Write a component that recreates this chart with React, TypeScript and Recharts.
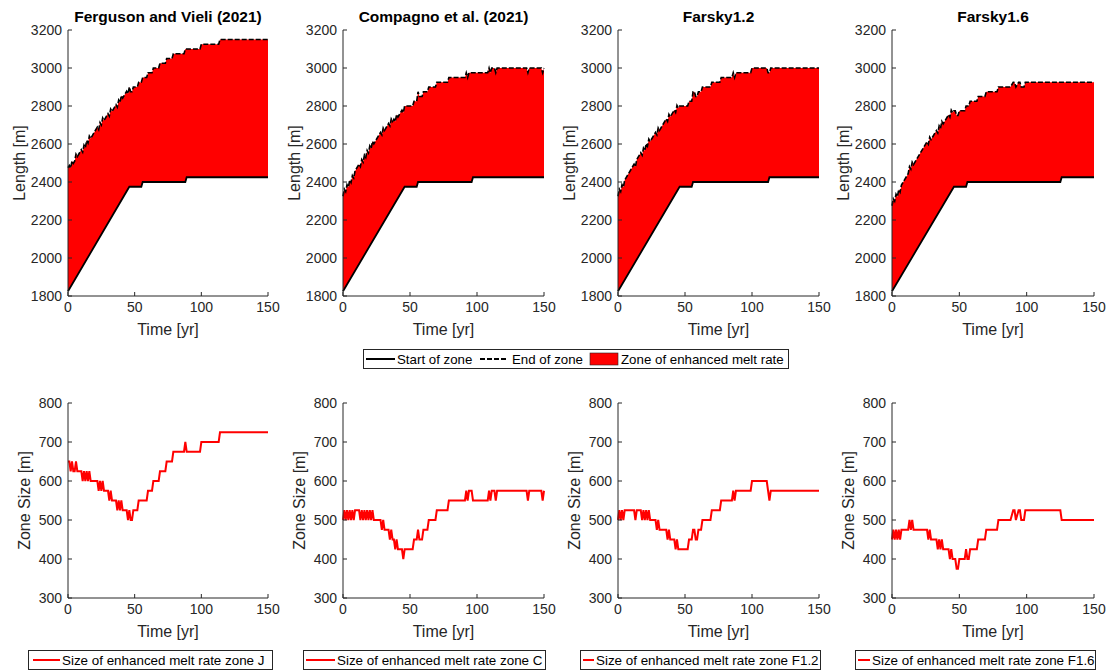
import React from 'react';
import { ComposedChart, Area, Line, XAxis, YAxis } from 'recharts';

type Pt = [number, number];

const FONT = '"Liberation Sans", Arial, Helvetica, sans-serif';
const INK = '#262626';

const panelTitles = ['Ferguson and Vieli (2021)', 'Compagno et al. (2021)', 'Farsky1.2', 'Farsky1.6'];
const zoneNames = ['J', 'C', 'F1.2', 'F1.6'];
const timeTicks = [0, 50, 100, 150];
const lengthTicks = [1800, 2000, 2200, 2400, 2600, 2800, 3000, 3200];
const sizeTicks = [300, 400, 500, 600, 700, 800];

// start of zone [year, m]
const startJ: Pt[] = [[0, 1825], [46, 2375], [55, 2375], [56, 2400], [88, 2400], [89, 2425], [150, 2425]];
const startC: Pt[] = [[0, 1825], [46, 2375], [55, 2375], [56, 2400], [96, 2400], [97, 2425], [150, 2425]];
const startF12: Pt[] = [[0, 1825], [46, 2375], [55, 2375], [56, 2400], [112, 2400], [113, 2425], [150, 2425]];
const startF16: Pt[] = [[0, 1825], [46, 2375], [55, 2375], [56, 2400], [125, 2400], [126, 2425], [150, 2425]];

// end of zone [year, m]
const endJ: Pt[] = [
  [0, 2475], [1, 2487], [2, 2474], [3, 2511], [4, 2498], [5, 2510], [6, 2547], [7, 2534], [10, 2570],
  [11, 2557], [12, 2594], [13, 2581], [14, 2618], [15, 2605], [16, 2642], [17, 2629], [19, 2653],
  [22, 2689], [23, 2676], [24, 2713], [25, 2700], [26, 2737], [27, 2724], [30, 2760], [31, 2747],
  [32, 2784], [33, 2771], [36, 2807], [37, 2794], [38, 2831], [39, 2818], [40, 2855], [41, 2842],
  [44, 2878], [45, 2865], [46, 2900], [47, 2875], [48, 2875], [49, 2900], [52, 2900], [53, 2925],
  [55, 2925], [56, 2950], [59, 2950], [60, 2975], [63, 2975], [64, 3000], [68, 3000], [69, 3025],
  [73, 3025], [74, 3050], [78, 3050], [79, 3075], [87, 3075], [88, 3100], [89, 3100], [99, 3100],
  [100, 3125], [113, 3125], [114, 3150], [150, 3150],
];
const endC: Pt[] = [
  [0, 2325], [1, 2362], [2, 2349], [3, 2386], [4, 2373], [5, 2410], [6, 2397], [7, 2434], [8, 2421],
  [9, 2458], [12, 2494], [13, 2481], [14, 2518], [15, 2505], [16, 2542], [17, 2529], [18, 2566],
  [19, 2553], [20, 2590], [21, 2577], [22, 2614], [23, 2601], [28, 2661], [29, 2648], [30, 2685],
  [31, 2672], [34, 2708], [35, 2695], [36, 2732], [37, 2719], [38, 2731], [39, 2718], [40, 2755],
  [41, 2742], [44, 2778], [45, 2765], [46, 2800], [52, 2800], [53, 2825], [55, 2825], [56, 2875],
  [57, 2850], [59, 2850], [60, 2875], [63, 2875], [64, 2900], [69, 2900], [70, 2925], [78, 2925],
  [79, 2950], [91, 2950], [92, 2975], [93, 2950], [94, 2975], [96, 2975], [97, 2975], [108, 2975],
  [109, 3000], [110, 2975], [111, 3000], [113, 3000], [114, 2975], [115, 3000], [137, 3000],
  [138, 2975], [139, 3000], [148, 3000], [149, 2975], [150, 3000],
];
const endF12: Pt[] = [
  [0, 2325], [1, 2362], [2, 2349], [3, 2386], [4, 2373], [5, 2410], [12, 2494], [13, 2481], [14, 2518],
  [17, 2554], [18, 2541], [19, 2578], [20, 2565], [21, 2602], [22, 2589], [23, 2626], [24, 2613],
  [28, 2661], [29, 2648], [30, 2685], [31, 2672], [36, 2732], [37, 2719], [38, 2756], [39, 2743],
  [42, 2779], [43, 2766], [44, 2803], [45, 2790], [46, 2800], [52, 2800], [53, 2825], [55, 2825],
  [56, 2875], [57, 2875], [58, 2850], [59, 2850], [60, 2875], [62, 2875], [63, 2900], [69, 2900],
  [70, 2925], [76, 2925], [77, 2950], [85, 2950], [86, 2975], [87, 2950], [88, 2975], [99, 2975],
  [100, 3000], [111, 3000], [112, 2975], [113, 2975], [114, 3000], [150, 3000],
];
const endF16: Pt[] = [
  [0, 2275], [1, 2312], [2, 2299], [3, 2336], [4, 2323], [5, 2360], [6, 2347], [7, 2384], [12, 2444],
  [13, 2481], [14, 2468], [15, 2505], [16, 2492], [26, 2612], [27, 2599], [28, 2636], [29, 2623],
  [33, 2671], [34, 2658], [35, 2695], [36, 2682], [37, 2719], [38, 2706], [42, 2754], [43, 2741],
  [44, 2778], [45, 2765], [46, 2775], [47, 2775], [48, 2750], [49, 2750], [50, 2775], [54, 2775],
  [55, 2800], [56, 2800], [57, 2800], [58, 2825], [63, 2825], [64, 2850], [69, 2850], [70, 2875],
  [78, 2875], [79, 2900], [88, 2900], [90, 2925], [91, 2925], [92, 2900], [94, 2925], [95, 2925],
  [96, 2900], [98, 2900], [99, 2925], [125, 2925], [126, 2925], [150, 2925],
];

// size of enhanced melt rate zone [year, m]
const sizeJ: Pt[] = [
  [0, 650], [1, 650], [2, 625], [3, 650], [4, 625], [5, 625], [6, 650], [7, 625], [10, 625], [11, 600],
  [12, 625], [13, 600], [14, 625], [15, 600], [16, 625], [17, 600], [19, 600], [22, 600], [23, 575],
  [24, 600], [25, 575], [26, 600], [27, 575], [30, 575], [31, 550], [32, 575], [33, 550], [36, 550],
  [37, 525], [38, 550], [39, 525], [40, 550], [41, 525], [44, 525], [45, 500], [46, 525], [47, 500],
  [48, 500], [49, 525], [52, 525], [53, 550], [59, 550], [60, 575], [63, 575], [64, 600], [68, 600],
  [69, 625], [73, 625], [74, 650], [78, 650], [79, 675], [87, 675], [88, 700], [89, 675], [99, 675],
  [100, 700], [113, 700], [114, 725], [150, 725],
];
const sizeC: Pt[] = [
  [0, 500], [1, 525], [2, 500], [3, 525], [4, 500], [5, 525], [6, 500], [7, 525], [8, 500], [9, 525],
  [12, 525], [13, 500], [14, 525], [15, 500], [16, 525], [17, 500], [18, 525], [19, 500], [20, 525],
  [21, 500], [22, 525], [23, 500], [28, 500], [29, 475], [30, 500], [31, 475], [34, 475], [35, 450],
  [36, 475], [37, 450], [38, 450], [39, 425], [40, 450], [41, 425], [44, 425], [45, 400], [46, 425],
  [52, 425], [53, 450], [55, 450], [56, 475], [57, 450], [59, 450], [60, 475], [63, 475], [64, 500],
  [69, 500], [70, 525], [78, 525], [79, 550], [91, 550], [92, 575], [93, 550], [94, 575], [96, 575],
  [97, 550], [108, 550], [109, 575], [110, 550], [111, 575], [113, 575], [114, 550], [115, 575],
  [137, 575], [138, 550], [139, 575], [148, 575], [149, 550], [150, 575],
];
const sizeF12: Pt[] = [
  [0, 500], [1, 525], [2, 500], [3, 525], [4, 500], [5, 525], [12, 525], [13, 500], [14, 525], [17, 525],
  [18, 500], [19, 525], [20, 500], [21, 525], [22, 500], [23, 525], [24, 500], [28, 500], [29, 475],
  [30, 500], [31, 475], [36, 475], [37, 450], [38, 475], [39, 450], [42, 450], [43, 425], [44, 450],
  [45, 425], [52, 425], [53, 450], [55, 450], [56, 475], [57, 475], [58, 450], [59, 450], [60, 475],
  [62, 475], [63, 500], [69, 500], [70, 525], [76, 525], [77, 550], [85, 550], [86, 575], [87, 550],
  [88, 575], [99, 575], [100, 600], [111, 600], [112, 575], [113, 550], [114, 575], [150, 575],
];
const sizeF16: Pt[] = [
  [0, 450], [1, 475], [2, 450], [3, 475], [4, 450], [5, 475], [6, 450], [7, 475], [12, 475], [13, 500],
  [14, 475], [15, 500], [16, 475], [26, 475], [27, 450], [28, 475], [29, 450], [33, 450], [34, 425],
  [35, 450], [36, 425], [37, 450], [38, 425], [42, 425], [43, 400], [44, 425], [45, 400], [47, 400],
  [48, 375], [49, 375], [50, 400], [54, 400], [55, 425], [56, 400], [57, 400], [58, 425], [63, 425],
  [64, 450], [69, 450], [70, 475], [78, 475], [79, 500], [88, 500], [90, 525], [91, 525], [92, 500],
  [94, 525], [95, 525], [96, 500], [98, 500], [99, 525], [125, 525], [126, 500], [150, 500],
];

const starts = [startJ, startC, startF12, startF16];
const ends = [endJ, endC, endF12, endF16];
const sizes = [sizeJ, sizeC, sizeF12, sizeF16];

const plotLeft = [68, 343, 618, 892];
const plotWidth = [200, 201, 201, 202];
const legendBoxes = [
  { left: 28, right: 272, line: [33, 60], text: 62 },
  { left: 303, right: 545, line: [306, 335], text: 337 },
  { left: 580, right: 820, line: [583, 594], text: 596 },
  { left: 855, right: 1095, line: [858, 870], text: 872 },
];

const toRows = (pts: Pt[]) => pts.map(([t, v]) => ({ t, v }));
const blank = () => '';
const tickText = { fontSize: 14, fill: INK, fontFamily: FONT };

function BoxAxes({ yDomain, yTicks }: { yDomain: [number, number]; yTicks: number[] }) {
  return (
    <>
      <XAxis
        type="number"
        dataKey="t"
        domain={[0, 150]}
        ticks={timeTicks}
        interval={0}
        height={49}
        stroke={INK}
        tickSize={-4}
        tickMargin={10}
        tick={tickText}
        label={{ value: 'Time [yr]', position: 'insideBottom', offset: 10, fill: INK, fontSize: 16, fontFamily: FONT }}
      />
      <XAxis
        xAxisId="top"
        orientation="top"
        type="number"
        domain={[0, 150]}
        ticks={timeTicks}
        interval={0}
        height={0}
        stroke={INK}
        tickSize={-4}
        tickFormatter={blank}
      />
      <YAxis
        yAxisId="right"
        orientation="right"
        type="number"
        domain={yDomain}
        ticks={yTicks}
        interval={0}
        width={0}
        stroke={INK}
        tickSize={-4}
        tickFormatter={blank}
      />
    </>
  );
}

function TopPanel({ idx }: { idx: number }) {
  const w = 68 + plotWidth[idx] + 14;
  return (
    <div style={{ position: 'absolute', left: plotLeft[idx] - 68, top: 0 }}>
      <svg width={w} height={30} style={{ position: 'absolute', left: 0, top: 0 }}>
        <text
          x={68 + plotWidth[idx] / 2}
          y={22}
          textAnchor="middle"
          fontFamily={FONT}
          fontSize={15.5}
          fontWeight="bold"
          fill="#000"
        >
          {panelTitles[idx]}
        </text>
      </svg>
      <ComposedChart width={w} height={345} margin={{ top: 30, right: 14, bottom: 0, left: 0 }}>
        {BoxAxes({ yDomain: [1800, 3200], yTicks: lengthTicks })}
        <YAxis
          type="number"
          domain={[1800, 3200]}
          ticks={lengthTicks}
          interval={0}
          width={68}
          stroke={INK}
          tickSize={-4}
          tickMargin={10}
          tick={tickText}
          label={{
            value: 'Length [m]',
            angle: -90,
            position: 'insideLeft',
            offset: 19,
            fill: INK,
            fontSize: 16,
            fontFamily: FONT,
            style: { textAnchor: 'middle' },
          }}
        />
        <Area data={toRows(ends[idx])} dataKey="v" type="linear" baseValue={1800} fill="#ff0000" fillOpacity={1} stroke="none" isAnimationActive={false} />
        <Area data={toRows(starts[idx])} dataKey="v" type="linear" baseValue={1800} fill="#ffffff" fillOpacity={1} stroke="none" isAnimationActive={false} />
        <Line data={toRows(starts[idx])} dataKey="v" type="linear" stroke="#000" strokeWidth={1.8} dot={false} isAnimationActive={false} />
        <Line data={toRows(ends[idx])} dataKey="v" type="linear" stroke="#000" strokeWidth={1.6} strokeDasharray="5 2" dot={false} isAnimationActive={false} />
      </ComposedChart>
    </div>
  );
}

function BottomPanel({ idx }: { idx: number }) {
  const w = 68 + plotWidth[idx] + 14;
  return (
    <div style={{ position: 'absolute', left: plotLeft[idx] - 68, top: 373 }}>
      <ComposedChart width={w} height={274} margin={{ top: 30, right: 14, bottom: 0, left: 0 }}>
        {BoxAxes({ yDomain: [300, 800], yTicks: sizeTicks })}
        <YAxis
          type="number"
          domain={[300, 800]}
          ticks={sizeTicks}
          interval={0}
          width={68}
          stroke={INK}
          tickSize={-4}
          tickMargin={10}
          tick={tickText}
          label={{
            value: 'Zone Size [m]',
            angle: -90,
            position: 'insideLeft',
            offset: 24,
            fill: INK,
            fontSize: 16,
            fontFamily: FONT,
            style: { textAnchor: 'middle' },
          }}
        />
        <Line data={toRows(sizes[idx])} dataKey="v" type="linear" stroke="#ff0000" strokeWidth={2} dot={false} isAnimationActive={false} />
      </ComposedChart>
    </div>
  );
}

function TopLegend() {
  return (
    <svg width={426} height={20} style={{ position: 'absolute', left: 363, top: 349 }}>
      <rect x={0.5} y={0.5} width={425} height={19} fill="#fff" stroke={INK} strokeWidth={1} />
      <g fontFamily={FONT} fontSize={13.3} fill="#000">
        <line x1={3} x2={32} y1={10} y2={10} stroke="#000" strokeWidth={2} />
        <text x={34} y={15}>Start of zone</text>
        <line x1={117} x2={145} y1={10} y2={10} stroke="#000" strokeWidth={2} strokeDasharray="5 2" />
        <text x={149} y={15}>End of zone</text>
        <rect x={227} y={4} width={28} height={12} fill="#ff0000" stroke={INK} strokeWidth={0.6} />
        <text x={258} y={15}>Zone of enhanced melt rate</text>
      </g>
    </svg>
  );
}

function SizeLegend({ idx }: { idx: number }) {
  const b = legendBoxes[idx];
  const w = b.right - b.left;
  return (
    <svg width={w + 1} height={20} style={{ position: 'absolute', left: b.left, top: 650 }}>
      <rect x={0.5} y={0.5} width={w} height={19} fill="#fff" stroke={INK} strokeWidth={1} />
      <line x1={b.line[0] - b.left} x2={b.line[1] - b.left} y1={10} y2={10} stroke="#ff0000" strokeWidth={2} />
      <text x={b.text - b.left} y={14.5} fontFamily={FONT} fontSize={13.4} fill="#000">
        {`Size of enhanced melt rate zone ${zoneNames[idx]}`}
      </text>
    </svg>
  );
}

export default function App() {
  return (
    <div style={{ position: 'absolute', left: 0, top: 0, width: 1112, height: 671, background: '#fff', overflow: 'hidden' }}>
      {[0, 1, 2, 3].map((i) => (
        <TopPanel key={`t${i}`} idx={i} />
      ))}
      <TopLegend />
      {[0, 1, 2, 3].map((i) => (
        <BottomPanel key={`b${i}`} idx={i} />
      ))}
      {[0, 1, 2, 3].map((i) => (
        <SizeLegend key={`l${i}`} idx={i} />
      ))}
    </div>
  );
}
